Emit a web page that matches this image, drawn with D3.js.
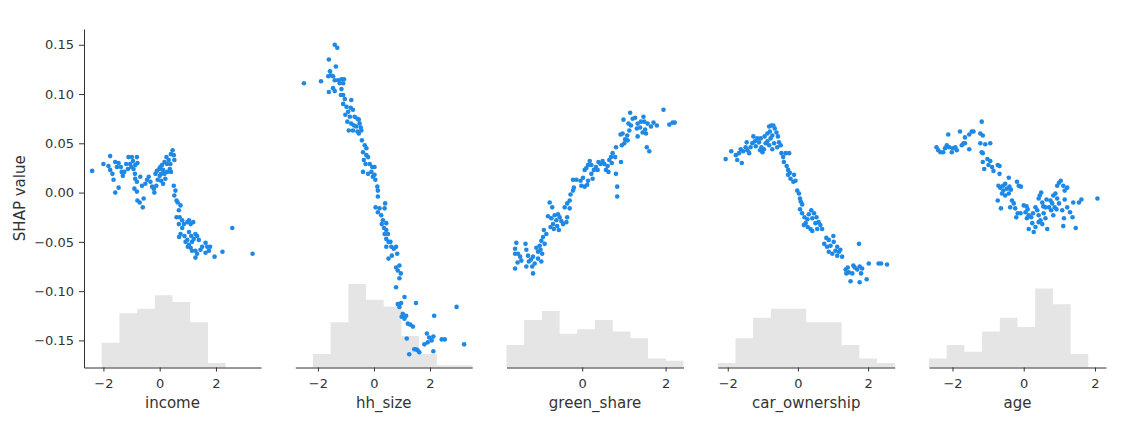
<!DOCTYPE html>
<html><head><meta charset="utf-8">
<script src="https://cdn.jsdelivr.net/npm/d3@7"></script>
<style>body{margin:0;background:#fff;} text{font-family:"DejaVu Sans",sans-serif;}</style>
</head><body><svg id="chart" width="1132" height="428"></svg>
<script>
const features = ["income", "hh_size", "green_share", "car_ownership", "age"];
const xDomains = [[-2.69, 3.60], [-2.81, 3.51], [-1.816, 2.43], [-2.285, 2.76], [-2.66, 2.31]];
const yDomain = [-0.1775, 0.166];
const yTicks = [-0.15, -0.10, -0.05, 0.00, 0.05, 0.10, 0.15];
const xTicks = [[-2, 0, 2], [-2, 0, 2], [0, 2], [-2, 0, 2], [-2, 0, 2]];
const nSamples = 150;

const histIncome = [0, 11, 24, 26, 32, 29, 20, 2, 0, 0];
const histHhSize = [0, 6, 20, 37, 30, 27, 14, 6, 1, 1];
const histGreen = [10, 21, 25, 15, 17, 21, 16, 13, 4, 3];
const histCar = [2, 13, 22, 26, 26, 20, 20, 10, 4, 2];
const histAge = [4, 10, 7, 16, 22, 18, 35, 28, 6, 0];

const incomePts = [[-2.40,0.022],[-2.00,0.029],[-1.76,0.037],[-1.82,0.027],[-1.76,0.023],[-1.68,0.019],[-1.64,0.013],[-1.58,0.000],[-1.46,0.005],[-1.58,0.031],[-1.52,0.026],[-1.46,0.030],[-1.38,0.026],[-1.35,0.021],[-1.31,0.017],[-1.26,0.021],[-1.19,0.029],[-1.13,0.024],[-1.11,0.036],[-1.05,0.029],[-1.01,0.026],[-0.99,0.036],[-0.95,0.032],[-0.93,0.024],[-0.87,0.028],[-0.81,0.036],[-0.79,0.030],[-0.88,0.019],[-0.87,0.014],[-0.81,0.011],[-0.90,0.004],[-0.81,0.001],[-0.79,-0.008],[-0.71,-0.010],[-0.57,-0.006],[-0.60,-0.015],[-0.69,0.016],[-0.63,0.007],[-0.51,0.009],[-0.45,0.013],[-0.39,0.016],[-0.33,0.011],[-0.27,0.006],[-0.21,0.004],[-0.19,0.000],[-0.12,0.007],[-0.07,0.013],[0.00,0.017],[0.05,0.019],[-0.15,0.019],[-0.10,0.022],[-0.02,0.024],[0.02,0.026],[0.12,0.023],[0.17,0.019],[0.05,0.012],[0.12,0.009],[0.20,0.014],[0.26,0.021],[0.26,0.029],[0.32,0.033],[0.38,0.029],[0.40,0.039],[0.46,0.043],[0.50,0.038],[0.52,0.033],[0.24,0.036],[0.17,0.031],[0.08,0.028],[0.36,0.024],[0.40,0.021],[0.50,0.007],[0.56,0.002],[0.52,-0.003],[0.60,-0.008],[0.64,-0.010],[0.74,-0.013],[0.68,-0.018],[0.60,-0.025],[0.71,-0.025],[0.80,-0.028],[0.68,-0.032],[0.80,-0.036],[0.86,-0.032],[0.74,-0.042],[0.69,-0.045],[0.88,-0.044],[0.98,-0.030],[1.04,-0.028],[1.10,-0.032],[1.19,-0.030],[1.04,-0.040],[1.12,-0.044],[0.98,-0.048],[1.04,-0.053],[1.21,-0.047],[1.27,-0.042],[1.33,-0.044],[1.39,-0.048],[1.10,-0.056],[1.15,-0.059],[1.27,-0.059],[1.33,-0.062],[1.27,-0.066],[1.45,-0.058],[1.51,-0.055],[1.63,-0.051],[1.69,-0.055],[1.75,-0.059],[1.79,-0.055],[1.63,-0.061],[1.95,-0.065],[2.23,-0.060],[2.58,-0.036],[3.30,-0.062],[1.00,-0.055],[1.15,-0.050],[0.92,-0.050]];

const hhSizePts = [[-2.50,0.111],[-1.89,0.113],[-1.61,0.135],[-1.40,0.150],[-1.31,0.147],[-1.36,0.128],[-1.57,0.123],[-1.54,0.119],[-1.63,0.118],[-1.46,0.118],[-1.40,0.114],[-1.28,0.114],[-1.16,0.115],[-1.07,0.115],[-1.22,0.111],[-1.10,0.111],[-1.46,0.106],[-1.61,0.102],[-1.40,0.103],[-1.16,0.105],[-1.10,0.099],[-1.18,0.099],[-1.04,0.095],[-0.81,0.094],[-1.10,0.090],[-0.98,0.087],[-0.83,0.086],[-0.75,0.084],[-0.92,0.082],[-1.02,0.079],[-0.86,0.077],[-0.69,0.077],[-0.59,0.075],[-0.54,0.074],[-0.95,0.072],[-0.81,0.070],[-0.71,0.068],[-0.63,0.067],[-0.51,0.070],[-0.47,0.066],[-0.90,0.063],[-0.75,0.063],[-0.59,0.062],[-0.54,0.060],[-0.45,0.063],[-0.43,0.053],[-0.33,0.048],[-0.27,0.045],[-0.39,0.041],[-0.27,0.038],[-0.21,0.036],[-0.36,0.033],[-0.30,0.029],[-0.15,0.029],[-0.06,0.026],[0.02,0.026],[-0.39,0.021],[-0.21,0.019],[-0.04,0.016],[0.05,0.013],[0.02,0.018],[-0.09,0.021],[0.12,0.006],[0.14,0.002],[0.14,-0.004],[0.06,-0.015],[0.20,-0.016],[0.14,-0.020],[0.40,-0.011],[0.38,-0.016],[0.26,-0.023],[0.32,-0.028],[0.28,-0.032],[0.44,-0.031],[0.36,-0.036],[0.44,-0.038],[0.38,-0.042],[0.50,-0.042],[0.44,-0.047],[0.52,-0.050],[0.59,-0.050],[0.44,-0.055],[0.62,-0.055],[0.71,-0.057],[0.79,-0.055],[0.52,-0.067],[0.64,-0.064],[0.83,-0.062],[0.79,-0.076],[0.91,-0.074],[0.85,-0.079],[0.96,-0.082],[0.91,-0.087],[0.79,-0.096],[1.09,-0.106],[0.97,-0.112],[0.85,-0.113],[0.91,-0.116],[1.50,-0.112],[1.03,-0.123],[0.99,-0.126],[1.15,-0.125],[1.09,-0.128],[1.21,-0.133],[1.30,-0.134],[1.39,-0.136],[1.17,-0.148],[1.26,-0.164],[1.44,-0.159],[1.56,-0.160],[1.62,-0.162],[1.50,-0.159],[1.89,-0.143],[1.97,-0.147],[1.92,-0.152],[2.06,-0.150],[2.12,-0.146],[1.80,-0.154],[2.15,-0.125],[2.12,-0.161],[2.42,-0.149],[2.53,-0.149],[2.95,-0.116],[3.22,-0.154]];

const greenPts = [[1.95,0.084],[2.17,0.071],[2.22,0.071],[2.09,0.069],[1.79,0.068],[1.71,0.071],[1.65,0.067],[1.57,0.070],[1.49,0.072],[1.47,0.077],[1.41,0.072],[1.33,0.070],[1.27,0.076],[1.15,0.081],[1.21,0.075],[1.11,0.070],[1.17,0.068],[1.31,0.065],[1.39,0.066],[1.51,0.064],[1.53,0.060],[1.45,0.061],[1.33,0.057],[1.13,0.063],[1.08,0.058],[0.97,0.060],[0.92,0.059],[0.99,0.074],[1.09,0.053],[1.01,0.050],[0.95,0.048],[1.03,0.054],[1.55,0.046],[1.61,0.042],[0.81,0.046],[0.73,0.040],[0.79,0.036],[0.69,0.036],[0.65,0.033],[0.71,0.030],[0.61,0.027],[0.57,0.023],[0.63,0.021],[0.53,0.029],[0.49,0.032],[0.44,0.029],[0.39,0.031],[0.33,0.026],[0.37,0.023],[0.28,0.023],[0.22,0.028],[0.18,0.032],[0.14,0.028],[0.10,0.025],[0.06,0.023],[0.22,0.019],[0.25,0.014],[0.14,0.012],[0.02,0.015],[-0.04,0.012],[-0.02,0.007],[0.06,0.006],[0.12,0.008],[-0.22,0.013],[-0.14,0.013],[-0.20,0.005],[-0.22,0.002],[0.84,0.006],[0.84,-0.004],[0.81,0.019],[0.93,0.031],[-0.28,-0.002],[-0.30,-0.008],[-0.36,-0.011],[-0.42,-0.015],[-0.30,-0.016],[-0.78,-0.010],[-0.72,-0.015],[-0.82,-0.024],[-0.74,-0.026],[-0.66,-0.023],[-0.58,-0.022],[-0.54,-0.025],[-0.62,-0.028],[-0.50,-0.029],[-0.46,-0.032],[-0.36,-0.025],[-0.38,-0.030],[-0.70,-0.032],[-0.76,-0.035],[-0.68,-0.037],[-0.60,-0.034],[-0.56,-0.038],[-0.92,-0.038],[-0.86,-0.042],[-0.94,-0.045],[-0.98,-0.049],[-0.90,-0.052],[-1.02,-0.054],[-1.00,-0.058],[-1.06,-0.060],[-0.96,-0.062],[-1.10,-0.056],[-1.06,-0.067],[-0.98,-0.070],[-1.18,-0.065],[-1.23,-0.068],[-1.28,-0.070],[-1.14,-0.072],[-1.20,-0.075],[-1.34,-0.075],[-1.18,-0.082],[-1.58,-0.051],[-1.36,-0.052],[-1.61,-0.057],[-1.54,-0.062],[-1.61,-0.062],[-1.49,-0.065],[-1.46,-0.069],[-1.55,-0.071],[-1.61,-0.077],[-1.34,-0.058],[-1.30,-0.064]];

const carPts = [[-2.06,0.034],[-1.90,0.042],[-1.77,0.038],[-1.68,0.040],[-1.60,0.030],[-1.73,0.033],[-1.63,0.044],[-1.56,0.042],[-1.49,0.046],[-1.46,0.051],[-1.44,0.043],[-1.39,0.040],[-1.35,0.046],[-1.27,0.057],[-1.30,0.050],[-1.23,0.052],[-1.20,0.047],[-1.16,0.055],[-1.11,0.051],[-1.06,0.055],[-1.04,0.046],[-1.01,0.041],[-1.08,0.043],[-0.97,0.044],[-0.92,0.050],[-0.95,0.057],[-0.87,0.060],[-0.82,0.067],[-0.76,0.068],[-0.70,0.068],[-0.66,0.065],[-0.80,0.062],[-0.73,0.058],[-0.78,0.055],[-0.87,0.052],[-0.82,0.048],[-0.73,0.044],[-0.68,0.050],[-0.61,0.061],[-0.57,0.057],[-0.54,0.051],[-0.49,0.048],[-0.59,0.046],[-0.47,0.040],[-0.42,0.036],[-0.35,0.040],[-0.25,0.040],[-0.40,0.031],[-0.32,0.027],[-0.28,0.023],[-0.23,0.020],[-0.28,0.018],[-0.21,0.014],[-0.11,0.018],[-0.07,0.012],[-0.13,0.011],[-0.02,0.002],[0.03,-0.001],[0.06,-0.006],[0.08,-0.009],[0.12,-0.012],[0.06,-0.017],[0.12,-0.021],[0.19,-0.025],[0.27,-0.027],[0.22,-0.031],[0.17,-0.033],[0.31,-0.022],[0.38,-0.018],[0.46,-0.021],[0.41,-0.026],[0.53,-0.025],[0.59,-0.030],[0.50,-0.031],[0.64,-0.033],[0.69,-0.037],[0.36,-0.037],[0.28,-0.035],[0.41,-0.039],[0.55,-0.037],[0.81,-0.046],[0.88,-0.048],[0.75,-0.052],[0.83,-0.055],[0.93,-0.054],[1.01,-0.044],[1.02,-0.050],[1.07,-0.059],[0.98,-0.062],[0.88,-0.060],[1.12,-0.055],[1.17,-0.060],[1.21,-0.058],[1.26,-0.065],[1.12,-0.064],[1.74,-0.052],[1.36,-0.078],[1.42,-0.076],[1.38,-0.082],[1.50,-0.090],[1.58,-0.074],[1.62,-0.076],[1.69,-0.078],[1.76,-0.075],[1.83,-0.077],[1.80,-0.082],[1.76,-0.091],[1.96,-0.088],[2.02,-0.072],[2.30,-0.072],[2.37,-0.072],[2.54,-0.073],[1.55,-0.082],[1.45,-0.081]];

const agePts = [[-2.45,0.046],[-2.40,0.043],[-2.34,0.041],[-2.26,0.041],[-2.21,0.045],[-2.16,0.048],[-2.12,0.059],[-2.09,0.046],[-2.02,0.041],[-1.99,0.045],[-1.92,0.046],[-1.88,0.043],[-1.79,0.062],[-1.74,0.048],[-1.69,0.050],[-1.65,0.056],[-1.65,0.050],[-1.53,0.059],[-1.46,0.062],[-1.41,0.062],[-1.53,0.044],[-1.22,0.060],[-1.18,0.072],[-1.15,0.058],[-1.22,0.050],[-1.08,0.049],[-0.94,0.050],[-1.18,0.041],[-1.15,0.040],[-1.15,0.031],[-1.11,0.024],[-1.02,0.034],[-0.94,0.032],[-0.99,0.028],[-0.89,0.026],[-0.85,0.022],[-0.73,0.028],[-0.68,0.027],[-0.68,0.019],[-0.42,0.015],[-0.71,0.007],[-0.66,0.005],[-0.58,0.007],[-0.52,0.009],[-0.47,0.004],[-0.57,0.002],[-0.40,0.006],[-0.36,0.003],[-0.61,-0.001],[-0.52,-0.003],[-0.42,-0.001],[-0.73,-0.008],[-0.64,-0.016],[-0.33,-0.008],[-0.28,-0.011],[-0.19,0.011],[-0.14,0.007],[-0.08,0.006],[-0.38,-0.015],[-0.24,-0.016],[-0.17,-0.021],[-0.21,-0.025],[-0.09,-0.021],[0.00,-0.013],[0.08,-0.014],[0.11,-0.017],[0.05,-0.020],[0.14,-0.023],[0.09,-0.026],[0.21,-0.025],[0.14,-0.037],[0.24,-0.031],[0.28,-0.040],[0.33,-0.035],[0.26,-0.021],[0.33,-0.015],[0.38,-0.018],[0.42,-0.023],[0.47,-0.028],[0.52,-0.032],[0.42,-0.030],[0.45,-0.003],[0.42,-0.006],[0.49,0.000],[0.55,-0.014],[0.56,-0.021],[0.61,-0.026],[0.66,-0.037],[0.64,-0.007],[0.71,-0.015],[0.75,-0.008],[0.80,-0.011],[0.77,-0.018],[0.83,-0.023],[0.87,-0.015],[0.83,-0.003],[0.89,-0.001],[0.94,-0.006],[0.99,-0.011],[0.92,-0.017],[0.99,0.010],[1.04,0.012],[0.94,0.007],[1.11,0.007],[1.15,0.002],[1.22,0.005],[1.15,-0.007],[1.08,-0.018],[1.13,-0.026],[1.11,-0.034],[1.22,-0.015],[1.30,-0.020],[1.37,-0.025],[1.39,-0.010],[1.46,-0.036],[1.55,-0.010],[1.62,-0.007],[2.07,-0.006],[0.61,-0.015],[0.52,-0.010]];

const points = [incomePts, hhSizePts, greenPts, carPts, agePts];
const hists = [histIncome, histHhSize, histGreen, histCar, histAge];

const svg = d3.select("#chart");
const panelLeft = 84, panelWidth = 177, panelStep = 211.25;
const plotTop = 29, plotBottom = 367.5;
const ink = "#333333";
const histFill = "#e5e5e5";

const y = d3.scaleLinear().domain(yDomain).range([plotBottom, plotTop]);
const yHist = d3.scaleLinear().domain([0, nSamples]).range([plotBottom, plotTop]);

features.forEach((f, i) => {
  const x0 = panelLeft + i * panelStep;
  const x = d3.scaleLinear().domain(xDomains[i]).range([x0, x0 + panelWidth]);
  const g = svg.append("g");
  const [d0, d1] = xDomains[i];
  const bw = (d1 - d0) / hists[i].length;
  // histogram as one step-shaped area so adjacent bins have no seams
  const steps = hists[i].map((c, k) => ({ e: d0 + k * bw, c }));
  steps.push({ e: d1, c: hists[i][hists[i].length - 1] });
  const area = d3.area().curve(d3.curveStepAfter)
    .x(d => x(d.e)).y0(yHist(0)).y1(d => yHist(d.c));
  g.append("path").datum(steps).attr("d", area).attr("fill", histFill);
  g.append("g").selectAll("circle").data(points[i]).join("circle")
    .attr("cx", d => x(d[0])).attr("cy", d => y(d[1]))
    .attr("r", 2.3).attr("fill", "#1E88E5");
  const ax = g.append("g").attr("transform", `translate(0,${plotBottom})`)
    .call(d3.axisBottom(x).tickValues(xTicks[i]).tickFormat(d3.format("d"))
      .tickSize(4).tickSizeOuter(0).tickPadding(7));
  ax.select(".domain").attr("stroke", ink).attr("stroke-width", 1);
  ax.selectAll(".tick line").attr("stroke", ink);
  ax.selectAll(".tick text").attr("fill", ink).style("font-size", "13px").style("font-family", "DejaVu Sans");
  g.append("text").attr("x", x0 + panelWidth / 2).attr("y", 408)
    .attr("text-anchor", "middle").attr("fill", ink).style("font-size", "15px").text(f);
  if (i === 0) {
    const ay = g.append("g").attr("transform", `translate(${x0},0)`)
      .call(d3.axisLeft(y).tickValues(yTicks).tickFormat(d3.format(".2f"))
        .tickSize(5).tickSizeOuter(0).tickPadding(5));
    ay.select(".domain").attr("stroke", ink).attr("stroke-width", 1);
    ay.selectAll(".tick line").attr("stroke", ink);
    ay.selectAll(".tick text").attr("fill", ink).style("font-size", "13px").style("font-family", "DejaVu Sans");
    g.append("text").attr("transform", `translate(25,${(plotTop + plotBottom) / 2}) rotate(-90)`)
      .attr("text-anchor", "middle").attr("fill", ink).style("font-size", "15px").text("SHAP value");
  }
});
</script></body></html>
